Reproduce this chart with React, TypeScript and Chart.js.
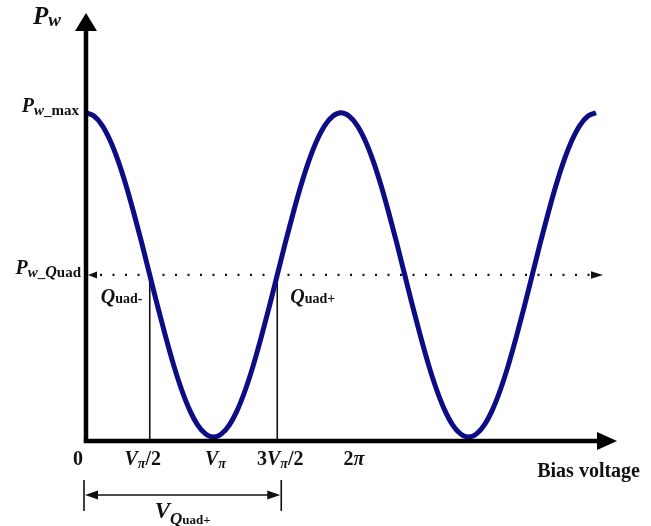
import { useEffect, useRef } from "react";
import { Chart, registerables } from "chart.js";

Chart.register(...registerables);

// Bias voltage in units of Vπ, sampled every Vπ/16
const biasVoltage = [
  0, 0.0625, 0.125, 0.1875, 0.25, 0.3125, 0.375, 0.4375, 0.5, 0.5625, 0.625,
  0.6875, 0.75, 0.8125, 0.875, 0.9375, 1, 1.0625, 1.125, 1.1875, 1.25, 1.3125,
  1.375, 1.4375, 1.5, 1.5625, 1.625, 1.6875, 1.75, 1.8125, 1.875, 1.9375, 2,
  2.0625, 2.125, 2.1875, 2.25, 2.3125, 2.375, 2.4375, 2.5, 2.5625, 2.625,
  2.6875, 2.75, 2.8125, 2.875, 2.9375, 3, 3.0625, 3.125, 3.1875, 3.25, 3.3125,
  3.375, 3.4375, 3.5, 3.5625, 3.625, 3.6875, 3.75, 3.8125, 3.875, 3.9375, 4,
];
// Normalised output power Pw / Pw_max
const outputPower = [
  1.0, 0.99, 0.962, 0.916, 0.854, 0.778, 0.691, 0.598, 0.5, 0.402, 0.309,
  0.222, 0.146, 0.084, 0.038, 0.01, 0.0, 0.01, 0.038, 0.084, 0.146, 0.222,
  0.309, 0.402, 0.5, 0.598, 0.691, 0.778, 0.854, 0.916, 0.962, 0.99, 1.0, 0.99,
  0.962, 0.916, 0.854, 0.778, 0.691, 0.598, 0.5, 0.402, 0.309, 0.222, 0.146,
  0.084, 0.038, 0.01, 0.0, 0.01, 0.038, 0.084, 0.146, 0.222, 0.309, 0.402, 0.5,
  0.598, 0.691, 0.778, 0.854, 0.916, 0.962, 0.99, 1.0,
];

const quadPower = 0.5;
const quadBias = [0.5, 1.5];
const tickValues = [0, 0.5, 1, 1.5, 2];

type Part = { t: string; it?: boolean; sub?: boolean };
const tickLabels: Part[][] = [
  [{ t: "0" }],
  [{ t: "V", it: true }, { t: "π", it: true, sub: true }, { t: "/2" }],
  [{ t: "V", it: true }, { t: "π", it: true, sub: true }],
  [{ t: "3" }, { t: "V", it: true }, { t: "π", it: true, sub: true }, { t: "/2" }],
  [{ t: "2" }, { t: "π", it: true }],
];

// small horizontal nudges for the tick captions (px)
const TICK_NUDGE = [-8, -7, 2, 3, 13];

const SERIF = '"Liberation Serif", "Times New Roman", "DejaVu Serif", serif';
const font = (size: number, italic?: boolean) =>
  `${italic ? "italic " : ""}bold ${size}px ${SERIF}`;

type Run = { t: string; size: number; it?: boolean; dy?: number };

function drawRuns(
  ctx: CanvasRenderingContext2D,
  runs: Run[],
  x: number,
  y: number,
  align: "left" | "center" | "right"
) {
  let w = 0;
  for (const r of runs) {
    ctx.font = font(r.size, r.it);
    w += ctx.measureText(r.t).width;
  }
  let cx = align === "left" ? x : align === "center" ? x - w / 2 : x - w;
  ctx.textAlign = "left";
  ctx.textBaseline = "alphabetic";
  for (const r of runs) {
    ctx.font = font(r.size, r.it);
    ctx.fillText(r.t, cx, y + (r.dy || 0));
    cx += ctx.measureText(r.t).width;
  }
}

function tri(
  ctx: CanvasRenderingContext2D,
  ax: number, ay: number, bx: number, by: number, cx: number, cy: number
) {
  ctx.beginPath();
  ctx.moveTo(ax, ay);
  ctx.lineTo(bx, by);
  ctx.lineTo(cx, cy);
  ctx.closePath();
  ctx.fill();
}

function seg(ctx: CanvasRenderingContext2D, x1: number, y1: number, x2: number, y2: number) {
  ctx.beginPath();
  ctx.moveTo(x1, y1);
  ctx.lineTo(x2, y2);
  ctx.stroke();
}

const decor = {
  id: "decor",
  beforeDatasetsDraw(chart: any) {
    const { ctx, scales } = chart;
    const xs = scales.x;
    const ys = scales.y;
    const x0 = xs.getPixelForValue(0);
    const qy = ys.getPixelForValue(quadPower);
    const base = chart.chartArea.bottom;
    const xEnd = xs.getPixelForValue(4);
    ctx.save();
    ctx.strokeStyle = "#111";
    ctx.fillStyle = "#111";
    // dotted quadrature level
    ctx.lineWidth = 2.2;
    ctx.setLineDash([2, 10.5]);
    seg(ctx, x0 + 14, qy, xEnd - 6, qy);
    ctx.setLineDash([]);
    tri(ctx, x0 + 2, qy, x0 + 11, qy - 3.5, x0 + 11, qy + 3.5);
    tri(ctx, xEnd + 7, qy, xEnd - 5, qy - 3.8, xEnd - 5, qy + 3.8);
    // drop lines at the quadrature points
    ctx.lineWidth = 1.6;
    for (const q of quadBias) {
      const px = xs.getPixelForValue(q);
      seg(ctx, px, qy, px, base);
    }
    ctx.restore();
  },
  afterDraw(chart: any) {
    const { ctx, scales, chartArea } = chart;
    const xs = scales.x;
    const ys = scales.y;
    const x0 = xs.getPixelForValue(0);
    const base = chartArea.bottom;
    const qy = ys.getPixelForValue(quadPower);
    ctx.save();
    ctx.strokeStyle = "#000";
    ctx.fillStyle = "#000";

    // axes with arrowheads
    ctx.lineWidth = 4.5;
    seg(ctx, x0, base + 2, x0, 30);
    tri(ctx, x0, chartArea.top - 2.5, x0 - 11, 31, x0 + 11, 31);
    seg(ctx, x0 - 2.2, base, 600, base);
    tri(ctx, chartArea.right - 4.5, base, 597, base - 9, 597, base + 9);

    ctx.fillStyle = "#111";
    // axis titles
    drawRuns(ctx, [
      { t: "P", size: 25, it: true },
      { t: "w", size: 19, it: true, dy: 2 },
    ], 33, 24, "left");
    drawRuns(ctx, [{ t: "Bias voltage", size: 20 }], chartArea.right + 18.5, 477, "right");

    // level labels on the power axis
    drawRuns(ctx, [
      { t: "P", size: 20, it: true },
      { t: "w", size: 15, it: true, dy: 3 },
      { t: "_max", size: 15, dy: 3 },
    ], x0 - 7, ys.getPixelForValue(1) - 1, "right");
    drawRuns(ctx, [
      { t: "P", size: 20, it: true },
      { t: "w", size: 15, it: true, dy: 3 },
      { t: "_", size: 15, dy: 3 },
      { t: "Q", size: 16, it: true, dy: 3 },
      { t: "uad", size: 15, dy: 3 },
    ], x0 - 5, qy - 1, "right");

    // quadrature point labels
    drawRuns(ctx, [
      { t: "Q", size: 20, it: true },
      { t: "uad-", size: 14 },
    ], xs.getPixelForValue(quadBias[0]) - 49, qy + 28, "left");
    drawRuns(ctx, [
      { t: "Q", size: 20, it: true },
      { t: "uad+", size: 14 },
    ], xs.getPixelForValue(quadBias[1]) + 13, qy + 28, "left");

    // tick captions
    tickValues.forEach((v, i) => {
      const runs: Run[] = tickLabels[i].map((p) =>
        p.sub
          ? { t: p.t, size: 14, it: p.it, dy: 3 }
          : { t: p.t, size: 20, it: p.it }
      );
      drawRuns(ctx, runs, xs.getPixelForValue(v) + TICK_NUDGE[i], base + 24, "center");
    });

    // V_Quad+ dimension
    const xl = x0 - 2;
    const xr = xs.getPixelForValue(quadBias[1]) + 4;
    const yd = 495;
    ctx.strokeStyle = "#111";
    ctx.lineWidth = 1.6;
    seg(ctx, xl, 480, xl, 511);
    seg(ctx, xr, 480, xr, 511);
    seg(ctx, xl + 8, yd, xr - 8, yd);
    tri(ctx, xl + 1, yd, xl + 14, yd - 4.5, xl + 14, yd + 4.5);
    tri(ctx, xr - 1, yd, xr - 14, yd - 4.5, xr - 14, yd + 4.5);
    drawRuns(ctx, [
      { t: "V", size: 23, it: true },
      { t: "Q", size: 17, it: true, dy: 6 },
      { t: "uad+", size: 13, dy: 6 },
    ], (xl + xr) / 2, 518, "center");

    ctx.restore();
  },
};

export default function App() {
  const canvasRef = useRef<HTMLCanvasElement | null>(null);

  useEffect(() => {
    const canvas = canvasRef.current;
    if (!canvas) return;
    const chart = new Chart(canvas, {
      type: "line",
      data: {
        datasets: [
          {
            data: biasVoltage.map((v, i) => ({ x: v, y: outputPower[i] })),
            borderColor: "#0c0c84",
            borderWidth: 5,
            borderJoinStyle: "round",
            pointRadius: 0,
            cubicInterpolationMode: "monotone",
            fill: false,
          },
        ],
      },
      options: {
        responsive: false,
        animation: false,
        devicePixelRatio: 1,
        layout: { padding: { left: 86, right: 29.5, top: 15.5, bottom: 85 } },
        plugins: { legend: { display: false }, tooltip: { enabled: false } },
        scales: {
          x: { type: "linear", min: 0, max: 4.2, display: false },
          y: { type: "linear", min: -0.012, max: 1.3, display: false },
        },
      },
      plugins: [decor],
    });
    return () => chart.destroy();
  }, []);

  return (
    <div style={{ position: "absolute", left: 0, top: 0, width: 651, height: 526, background: "#fff" }}>
      <canvas ref={canvasRef} width={651} height={526} style={{ display: "block" }} />
    </div>
  );
}
